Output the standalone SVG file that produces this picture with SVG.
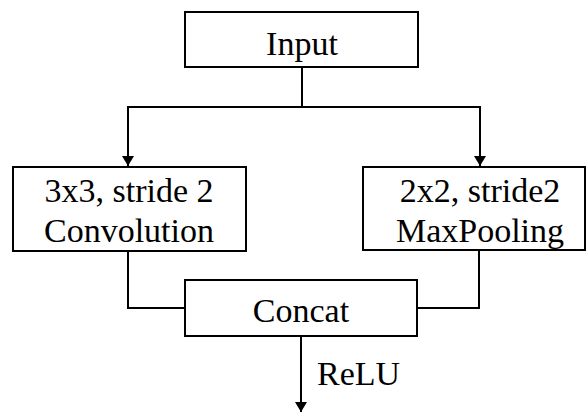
<svg xmlns="http://www.w3.org/2000/svg" width="586" height="414" viewBox="0 0 586 414">
<style>
.box{fill:#fff;stroke:#000;stroke-width:2}
.t{font-family:'Liberation Serif','DejaVu Serif',serif;font-size:34px;fill:#000;text-anchor:middle}
.c{fill:none;stroke:#000;stroke-width:2}
</style>
<defs>
<marker id="ah" markerWidth="10" markerHeight="12" refX="10" refY="6" orient="auto" markerUnits="userSpaceOnUse">
<path d="M0,0 L10,6 L0,12 Z" fill="#000"/>
</marker>
</defs>
<g id="connectors">
<path class="c" d="M302,67 V107"/>
<path class="c" d="M128,107 H480"/>
<path class="c" d="M128,106 V166" marker-end="url(#ah)"/>
<path class="c" d="M480,106 V166" marker-end="url(#ah)"/>
<path class="c" d="M128,251 V308 H185"/>
<path class="c" d="M479,250 V308 H417"/>
<path class="c" d="M301,336 V412" marker-end="url(#ah)"/>
<text class="t" x="317" y="385" text-anchor="start" style="text-anchor:start">ReLU</text>
</g>
<g id="input">
<rect class="box" x="185" y="12" width="233" height="55"/>
<text class="t" x="302" y="55">Input</text>
</g>
<g id="conv">
<rect class="box" x="13" y="167" width="233" height="84"/>
<text class="t" x="129" y="202">3x3, stride 2</text>
<text class="t" x="129" y="242">Convolution</text>
</g>
<g id="pool">
<rect class="box" x="363" y="167" width="222" height="83"/>
<text class="t" x="480" y="202">2x2, stride2</text>
<text class="t" x="480" y="242">MaxPooling</text>
</g>
<g id="concat">
<rect class="box" x="185" y="280" width="232" height="56"/>
<text class="t" x="301" y="322">Concat</text>
</g>
</svg>
